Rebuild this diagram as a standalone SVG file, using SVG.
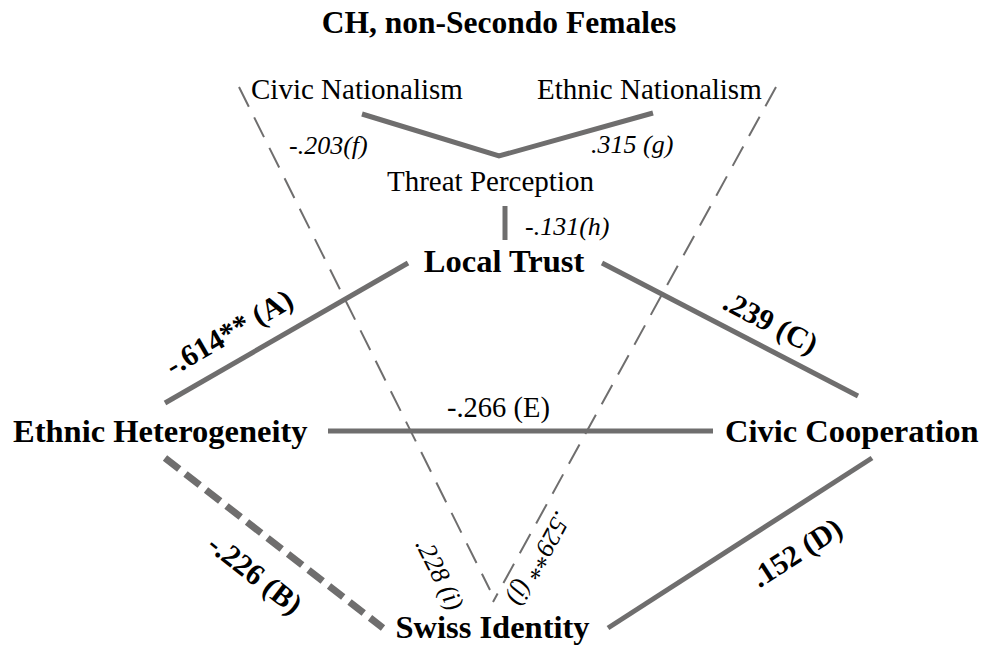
<svg xmlns="http://www.w3.org/2000/svg" width="988" height="651" viewBox="0 0 988 651">
<style>
text{font-family:"Liberation Serif","Times New Roman",serif;fill:#000}
.node{font-weight:bold;font-size:32.5px}
.title{font-weight:bold;font-size:31.5px}
.var{font-size:29px}
.lab{font-weight:bold;font-size:30px}
.it{font-style:italic;font-size:26px}
.reg{font-size:28.5px}
.solid{stroke:#6f6e6e;stroke-width:5;fill:none}
.thick-dash{stroke:#6f6e6e;stroke-width:7;fill:none;stroke-dasharray:18 8}
.thin-dash{stroke:#6f6e6e;stroke-width:2;fill:none;stroke-dasharray:22 12}
</style>
<rect width="988" height="651" fill="#fff"/>
<text class="title" x="499" y="33" text-anchor="middle">CH, non-Secondo Females</text>
<g id="connectors">
<path class="thin-dash" d="M239,87 L490,590"/>
<path class="thin-dash" d="M776,87 L493,602"/>
<path class="solid" d="M362,114 L499,156 L653,113" stroke-width="4.5"/>
<path class="solid" d="M505,206 L505,240" stroke-width="4.5"/>
<path class="solid" d="M165,403 L408,263"/>
<path class="solid" d="M602,263 L858,396"/>
<path class="solid" d="M328,431 L713,431" stroke-width="5.5"/>
<path class="thick-dash" d="M165,458 L383,628"/>
<path class="solid" d="M608,628 L872,458"/>
<text class="it" x="289" y="153.5">-.203(f)</text>
<text class="it" x="591" y="153">.315 (g)</text>
<text class="it" x="525" y="235">-.131(h)</text>
<text class="lab" text-anchor="middle" transform="translate(234,341) rotate(-30)">-.614** (A)</text>
<text class="lab" text-anchor="middle" transform="translate(766,331.5) rotate(27.5)">.239 (C)</text>
<text class="reg" x="447" y="417">-.266 (E)</text>
<text class="lab" text-anchor="middle" transform="translate(249,582) rotate(37.9)">-.226 (B)</text>
<text class="lab" text-anchor="middle" transform="translate(802,561) rotate(-32.8)">.152 (D)</text>
<text class="it" text-anchor="middle" transform="translate(432,578) rotate(63.5)">.228 (i)</text>
<text class="it" text-anchor="middle" transform="translate(532,555) rotate(118.8)">.529** (j)</text>
</g>
<g id="civic-nationalism"><text class="var" x="251" y="98.5">Civic Nationalism</text></g>
<g id="ethnic-nationalism"><text class="var" x="537" y="98.5">Ethnic Nationalism</text></g>
<g id="threat-perception"><text class="var" x="387" y="191">Threat Perception</text></g>
<g id="local-trust"><text class="node" x="504" y="272" text-anchor="middle">Local Trust</text></g>
<g id="ethnic-heterogeneity"><text class="node" x="13" y="442">Ethnic Heterogeneity</text></g>
<g id="civic-cooperation"><text class="node" x="725" y="442">Civic Cooperation</text></g>
<g id="swiss-identity"><text class="node" x="492.5" y="638" text-anchor="middle">Swiss Identity</text></g>
</svg>
